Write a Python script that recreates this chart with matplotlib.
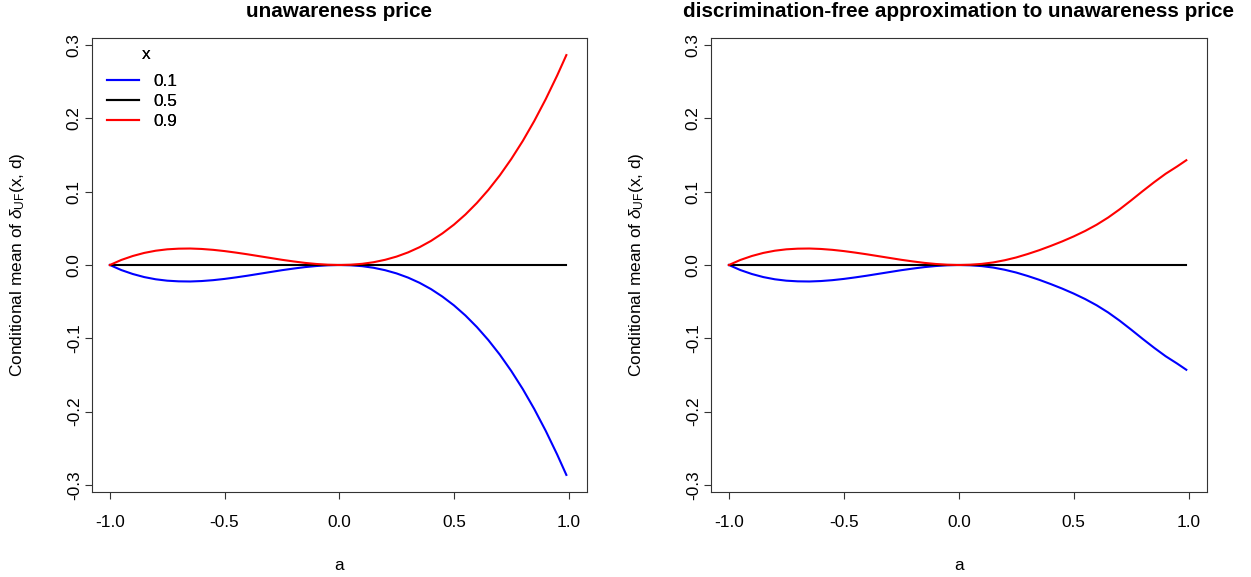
import matplotlib
matplotlib.use("Agg")
import matplotlib.pyplot as plt

plt.rcParams['font.family'] = ['Liberation Sans', 'DejaVu Sans']
plt.rcParams['mathtext.fontset'] = 'custom'
plt.rcParams['mathtext.rm'] = 'Liberation Sans'
plt.rcParams['mathtext.it'] = 'Liberation Sans:italic'

# ---- data ----
a_vals = [-1.0, -0.95, -0.9, -0.85, -0.8, -0.75, -0.7, -0.65, -0.6, -0.55,
          -0.5, -0.45, -0.4, -0.35, -0.3, -0.25, -0.2, -0.15, -0.1, -0.05,
          0.0, 0.05, 0.1, 0.15, 0.2, 0.25, 0.3, 0.35, 0.4, 0.45,
          0.5, 0.55, 0.6, 0.65, 0.7, 0.75, 0.8, 0.85, 0.9, 0.95, 0.99]

# left panel: unawareness price
left_x09 = [0.0, 0.0069, 0.0123, 0.0165, 0.0195, 0.0214, 0.0223, 0.0225, 0.0219, 0.0207,
            0.0190, 0.0169, 0.0146, 0.0121, 0.0096, 0.0071, 0.0049, 0.0029, 0.0014, 0.0004,
            0.0, 0.0004, 0.0016, 0.0038, 0.0071, 0.0115, 0.0172, 0.0243, 0.0329, 0.0432,
            0.0551, 0.0689, 0.0847, 0.1025, 0.1224, 0.1447, 0.1693, 0.1965, 0.2263, 0.2587, 0.2865]
left_x01 = [-0.0, -0.0069, -0.0123, -0.0165, -0.0195, -0.0214, -0.0223, -0.0225, -0.0219, -0.0207,
            -0.0190, -0.0169, -0.0146, -0.0121, -0.0096, -0.0071, -0.0049, -0.0029, -0.0014, -0.0004,
            -0.0, -0.0004, -0.0016, -0.0038, -0.0071, -0.0115, -0.0172, -0.0243, -0.0329, -0.0432,
            -0.0551, -0.0689, -0.0847, -0.1025, -0.1224, -0.1447, -0.1693, -0.1965, -0.2263, -0.2587, -0.2865]

# right panel: discrimination-free approximation
right_x09 = [0.0, 0.0069, 0.0123, 0.0165, 0.0195, 0.0214, 0.0223, 0.0225, 0.0219, 0.0207,
             0.0190, 0.0169, 0.0146, 0.0121, 0.0096, 0.0071, 0.0049, 0.0029, 0.0014, 0.0004,
             0.0, 0.0004, 0.0015, 0.0035, 0.0065, 0.0103, 0.0150, 0.0202, 0.0260, 0.0322,
             0.0390, 0.0465, 0.0550, 0.0648, 0.0760, 0.0882, 0.1008, 0.1130, 0.1245, 0.1345, 0.1430]
right_x01 = [-0.0, -0.0069, -0.0123, -0.0165, -0.0195, -0.0214, -0.0223, -0.0225, -0.0219, -0.0207,
             -0.0190, -0.0169, -0.0146, -0.0121, -0.0096, -0.0071, -0.0049, -0.0029, -0.0014, -0.0004,
             -0.0, -0.0004, -0.0015, -0.0035, -0.0065, -0.0103, -0.0150, -0.0202, -0.0260, -0.0322,
             -0.0390, -0.0465, -0.0550, -0.0648, -0.0760, -0.0882, -0.1008, -0.1130, -0.1245, -0.1345, -0.1430]

x05_vals = [0.0] * len(a_vals)

legend_labels = ["0.1", "0.5", "0.9"]
legend_title = "x"
titles = ["unawareness price", "discrimination-free approximation to unawareness price"]
xticks = [-1.0, -0.5, 0.0, 0.5, 1.0]
yticks = [-0.3, -0.2, -0.1, 0.0, 0.1, 0.2, 0.3]

W, H = 1251, 577
fig = plt.figure(figsize=(W / 100, H / 100), dpi=100)

fs = 12.4
top_px, bot_px = 38.3, 491.7
panels = [(91.5, 587.0, left_x01, left_x09), (710.5, 1207.0, right_x01, right_x09)]

for i, (lpx, rpx, y01, y09) in enumerate(panels):
    ax = fig.add_axes([lpx / W, 1 - bot_px / H, (rpx - lpx) / W, (bot_px - top_px) / H])
    l1, = ax.plot(a_vals, y01, color='#0000FF', lw=1.5)
    l2, = ax.plot(a_vals, x05_vals, color='black', lw=1.5)
    l3, = ax.plot(a_vals, y09, color='#FF0000', lw=1.5)
    ax.set_xlim(-1.08, 1.08)
    ax.set_ylim(-0.2865 * 1.08, 0.2865 * 1.08)
    ax.set_xticks(xticks)
    ax.set_xticklabels(["%.1f" % v for v in xticks])
    ax.set_yticks(yticks)
    ax.set_yticklabels(["%.1f" % v for v in yticks])
    ax.tick_params(axis='both', direction='out', length=5, width=0.8, color='#333333',
                   labelsize=fs)
    ax.tick_params(axis='x', pad=12)
    ax.tick_params(axis='y', pad=2, labelrotation=90)
    for lab in ax.get_yticklabels():
        lab.set_va('center')
    for sp in ax.spines.values():
        sp.set_linewidth(0.8)
        sp.set_color('#333333')
    ax.set_title(titles[i], fontsize=fs * 1.2, fontweight='bold', pad=15.5)

    leg = ax.legend([l1, l2, l3], legend_labels, loc='upper left',
                    bbox_to_anchor=((107 - lpx) / (rpx - lpx), (bot_px - 74) / (bot_px - top_px)),
                    frameon=False, fontsize=fs, handlelength=1.85, handletextpad=0.85,
                    labelspacing=0.3, borderpad=0, borderaxespad=0)
    ax.text((145.7 - lpx) / (rpx - lpx), (bot_px - 59.5) / (bot_px - top_px), legend_title,
            transform=ax.transAxes, ha='center', va='baseline', fontsize=fs)

    cx = (lpx + rpx) / 2
    fig.text(cx / W, 1 - 565 / H, "a", ha='center', va='center', fontsize=fs)
    fig.text((lpx - 73.5) / W, 1 - 265 / H, r'Conditional mean of $\delta_{\mathrm{UF}}$(x, d)',
             rotation=90, ha='center', va='center', fontsize=fs)

fig.savefig("out.png", dpi=100)
